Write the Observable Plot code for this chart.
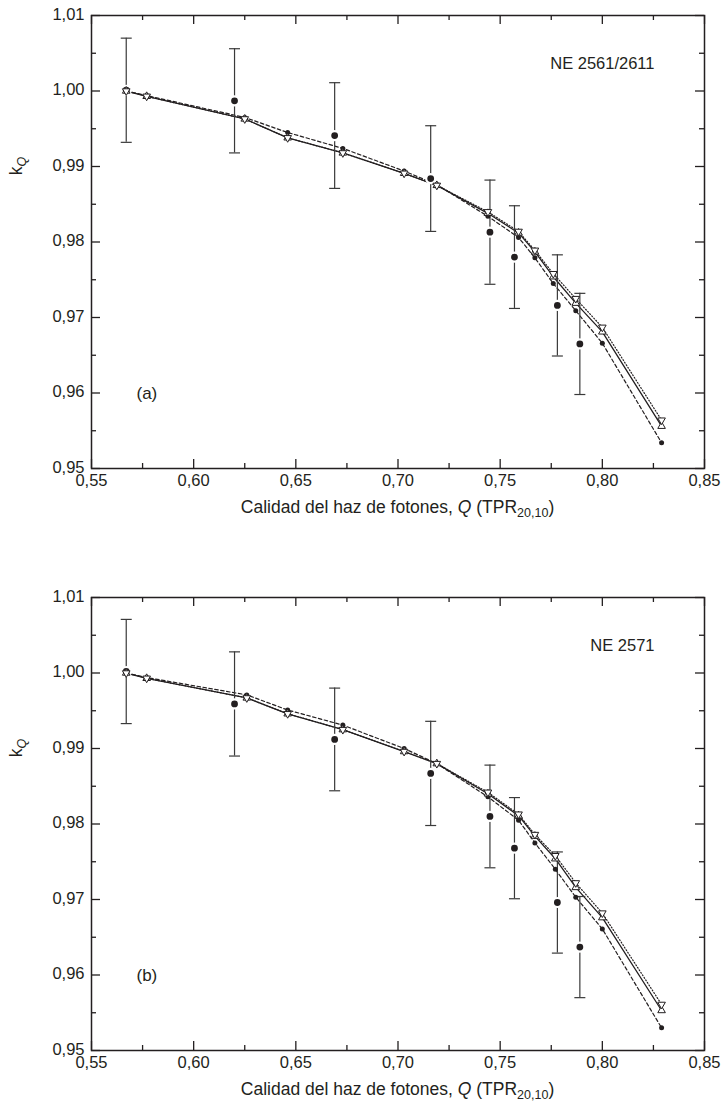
<!DOCTYPE html>
<html>
<head>
<meta charset="utf-8">
<script src="https://cdn.jsdelivr.net/npm/d3@7"></script>
<script src="https://cdn.jsdelivr.net/npm/@observablehq/plot@0.6"></script>
<style>
  body { margin: 0; background: #fff; }
  #chart { width: 726px; }
  #chart svg { display: block; }
</style>
</head>
<body>
<div id="chart"></div>
<script>
// ---------- Axis ticks ----------
const xTicksMajor = [0.55, 0.60, 0.65, 0.70, 0.75, 0.80, 0.85];
const xTicksMinor = [0.575, 0.625, 0.675, 0.725, 0.775, 0.825];
const yTicksMajor = [0.95, 0.96, 0.97, 0.98, 0.99, 1.00, 1.01];
const yTicksMinor = [0.955, 0.965, 0.975, 0.985, 0.995, 1.005];

// ---------- Panel (a): NE 2561/2611 ----------
const calcXA   = [0.567, 0.577, 0.625, 0.646, 0.673, 0.703, 0.719, 0.744, 0.759, 0.767, 0.776, 0.787, 0.800, 0.829];
const dotsA    = [1.0000, 0.9994, 0.9965, 0.9945, 0.9924, 0.9894, 0.9876, 0.9834, 0.9806, 0.9779, 0.9745, 0.9709, 0.9666, 0.9534];
const downA    = [1.0000, 0.9993, 0.9963, 0.9938, 0.9918, 0.9891, 0.9875, 0.9840, 0.9814, 0.9789, 0.9758, 0.9725, 0.9687, 0.9564];
const upA      = [1.0000, 0.9993, 0.9963, 0.9938, 0.9918, 0.9891, 0.9875, 0.9838, 0.9812, 0.9787, 0.9754, 0.9719, 0.9681, 0.9556];
const expXA    = [0.567, 0.620, 0.669, 0.716, 0.745, 0.757, 0.778, 0.789];
const expYA    = [1.0001, 0.9987, 0.9941, 0.9884, 0.9813, 0.9780, 0.9716, 0.9665];
const expErrA  = [0.0069, 0.0069, 0.0070, 0.0070, 0.0069, 0.0068, 0.0067, 0.0067];

// ---------- Panel (b): NE 2571 ----------
const calcXB   = [0.567, 0.577, 0.626, 0.646, 0.673, 0.703, 0.719, 0.744, 0.759, 0.767, 0.777, 0.787, 0.800, 0.829];
const dotsB    = [1.0000, 0.9994, 0.9971, 0.9951, 0.9931, 0.9900, 0.9880, 0.9836, 0.9805, 0.9775, 0.9740, 0.9703, 0.9661, 0.9530];
const downB    = [1.0000, 0.9993, 0.9967, 0.9946, 0.9925, 0.9896, 0.9880, 0.9842, 0.9813, 0.9786, 0.9758, 0.9722, 0.9682, 0.9561];
const upB      = [1.0000, 0.9993, 0.9967, 0.9946, 0.9925, 0.9896, 0.9880, 0.9840, 0.9811, 0.9784, 0.9754, 0.9716, 0.9676, 0.9553];
const expXB    = [0.567, 0.620, 0.669, 0.716, 0.745, 0.757, 0.778, 0.789];
const expYB    = [1.0002, 0.9959, 0.9912, 0.9867, 0.9810, 0.9768, 0.9696, 0.9637];
const expErrB  = [0.0069, 0.0069, 0.0068, 0.0069, 0.0068, 0.0067, 0.0067, 0.0067];

// ---------- Text ----------
const xTitleParts = ["Calidad del haz de fotones, ", "Q", " (TPR", "20,10", ")"];
const yTitleParts = ["k", "Q"];

// ---------- Styling ----------
const ink = "#231f20";
const FONT = "'Liberation Sans', Arial, Helvetica, sans-serif";
const W = 726, ML = 91, MR = 22, FH = 453;
const FW = W - ML - MR;

const fmt = d => d3.format(".2f")(d).replace(".", ",");

const downTri = { draw(ctx, size) { const r = Math.sqrt(size / Math.PI); const h = r * 1.75;
  ctx.moveTo(-r, -h / 3); ctx.lineTo(r, -h / 3); ctx.lineTo(0, 2 * h / 3); ctx.closePath(); } };
const upTri = { draw(ctx, size) { const r = Math.sqrt(size / Math.PI); const h = r * 1.75;
  ctx.moveTo(-r, h / 3); ctx.lineTo(r, h / 3); ctx.lineTo(0, -2 * h / 3); ctx.closePath(); } };
const capSym = { draw(ctx, size) { const r = Math.sqrt(size / Math.PI);
  ctx.moveTo(-r, 0); ctx.lineTo(r, 0); } };

function panel(o) {
  const height = o.marginTop + FH + o.marginBottom;
  const calc = o.calcX.map((x, i) => ({x, dot: o.dots[i], down: o.down[i], up: o.up[i]}));
  const exp = o.expX.map((x, i) => ({x, y: o.expY[i], lo: o.expY[i] - o.expErr[i], hi: o.expY[i] + o.expErr[i]}));
  const plot = Plot.plot({
    width: W, height,
    marginTop: o.marginTop, marginBottom: o.marginBottom, marginLeft: ML, marginRight: MR,
    style: {fontFamily: FONT, fontSize: "16px", color: ink, background: "#fff", overflow: "visible"},
    x: {domain: [0.55, 0.85]},
    y: {domain: [0.95, 1.01]},
    marks: [
      // inward tick marks on all four sides
      Plot.ruleX(xTicksMajor, {x: d => d, insetTop: FH - 9, stroke: ink, strokeWidth: 1.3}),
      Plot.ruleX(xTicksMinor, {x: d => d, insetTop: FH - 5, stroke: ink, strokeWidth: 1.3}),
      Plot.ruleX(xTicksMajor, {x: d => d, insetBottom: FH - 9, stroke: ink, strokeWidth: 1.3}),
      Plot.ruleX(xTicksMinor, {x: d => d, insetBottom: FH - 5, stroke: ink, strokeWidth: 1.3}),
      Plot.ruleY(yTicksMajor, {y: d => d, insetRight: FW - 9, stroke: ink, strokeWidth: 1.3}),
      Plot.ruleY(yTicksMinor, {y: d => d, insetRight: FW - 5, stroke: ink, strokeWidth: 1.3}),
      Plot.ruleY(yTicksMajor, {y: d => d, insetLeft: FW - 9, stroke: ink, strokeWidth: 1.3}),
      Plot.ruleY(yTicksMinor, {y: d => d, insetLeft: FW - 5, stroke: ink, strokeWidth: 1.3}),
      Plot.axisX({ticks: xTicksMajor, tickSize: 0, tickPadding: 6, tickFormat: fmt, label: null, fontSize: 16.5}),
      Plot.axisY({ticks: yTicksMajor, tickSize: 0, tickPadding: 7, tickFormat: fmt, label: null, fontSize: 16.5, dy: -1}),
      Plot.frame({stroke: ink, strokeWidth: 1.5}),
      // calculated curves
      Plot.line(calc, {x: "x", y: "down", stroke: ink, strokeWidth: 1.2, strokeDasharray: "1,2"}),
      Plot.line(calc, {x: "x", y: "up", stroke: ink, strokeWidth: 1.3}),
      Plot.line(calc, {x: "x", y: "dot", stroke: ink, strokeWidth: 1.2, strokeDasharray: "3.5,2.5"}),
      // experimental error bars
      Plot.ruleX(exp, {x: "x", y1: "lo", y2: "hi", stroke: "#3a3a3a", strokeWidth: 1.2}),
      Plot.dot(exp, {x: "x", y: "hi", symbol: capSym, r: 5.5, stroke: "#3a3a3a", strokeWidth: 1.2, fill: "none"}),
      Plot.dot(exp, {x: "x", y: "lo", symbol: capSym, r: 5.5, stroke: "#3a3a3a", strokeWidth: 1.2, fill: "none"}),
      Plot.dot(exp, {x: "x", y: "y", r: 4.5, fill: ink, stroke: "#fff", strokeWidth: 2.2}),
      // calculated markers
      Plot.dot(calc, {x: "x", y: "dot", r: 2.5, fill: ink}),
      Plot.dot(calc, {x: "x", y: "up", symbol: upTri, r: 3.8, fill: "#fff", stroke: ink, strokeWidth: 1}),
      Plot.dot(calc, {x: "x", y: "down", symbol: downTri, r: 3.8, fill: "#fff", stroke: ink, strokeWidth: 1}),
      // annotations
      Plot.text([o.label], {text: d => d, frameAnchor: "top-right", dx: -50, dy: 42, textAnchor: "end", fontSize: 16.5, fill: ink}),
      Plot.text([o.letter], {text: d => d, frameAnchor: "bottom-left", dx: 45, dy: -70, fontSize: 17, fill: ink})
    ]
  });

  const svg = d3.select(plot);
  // x-axis title with subscript
  const xt = svg.append("text")
    .attr("x", ML + FW / 2).attr("y", o.marginTop + FH + 45)
    .attr("text-anchor", "middle").attr("font-size", 17.5).attr("font-family", FONT).attr("fill", ink);
  xt.append("tspan").text(xTitleParts[0]);
  xt.append("tspan").attr("font-style", "italic").text(xTitleParts[1]);
  xt.append("tspan").text(xTitleParts[2]);
  xt.append("tspan").attr("font-size", 12.5).attr("dy", 4).text(xTitleParts[3]);
  xt.append("tspan").attr("dy", -4).text(xTitleParts[4]);
  // y-axis title k_Q
  const yt = svg.append("text")
    .attr("transform", `translate(22,${o.marginTop + 151}) rotate(-90)`)
    .attr("text-anchor", "middle").attr("font-size", 17.5).attr("font-family", FONT).attr("fill", ink);
  yt.append("tspan").text(yTitleParts[0]);
  yt.append("tspan").attr("font-style", "italic").attr("font-size", 12.5).attr("dy", 4).text(yTitleParts[1]);
  return plot;
}

const chart = document.getElementById("chart");
chart.append(panel({calcX: calcXA, dots: dotsA, down: downA, up: upA, expX: expXA, expY: expYA, expErr: expErrA,
  label: "NE 2561/2611", letter: "(a)", marginTop: 15, marginBottom: 112}));
chart.append(panel({calcX: calcXB, dots: dotsB, down: downB, up: upB, expX: expXB, expY: expYB, expErr: expErrB,
  label: "NE 2571", letter: "(b)", marginTop: 17, marginBottom: 59}));
</script>
</body>
</html>
